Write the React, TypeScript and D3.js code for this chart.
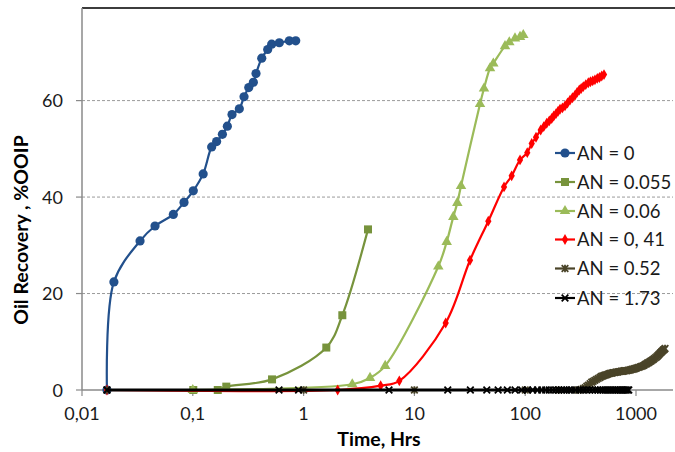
import React from "react";
import * as d3 from "d3";

// Oil recovery (%OOIP) against time (hours) for six acid numbers (AN)

const tickTimes = [0.01, 0.1, 1, 10, 100, 1000];
const tickTimeLabels = ["0,01", "0,1", "1", "10", "100", "1000"];
const recoveryTicks = [0, 20, 40, 60];

const an0Time = [0.0168, 0.0194, 0.0334, 0.0456, 0.0667, 0.0833, 0.101, 0.124, 0.148, 0.164, 0.185, 0.205, 0.226, 0.263, 0.29, 0.32, 0.352, 0.372, 0.419, 0.474, 0.515, 0.604, 0.743, 0.849];
const an0Rec = [0, 22.4, 30.9, 34.0, 36.4, 38.9, 41.3, 44.8, 50.4, 51.5, 53.0, 54.7, 57.1, 58.3, 60.8, 62.7, 63.8, 65.6, 68.8, 70.6, 71.7, 72.0, 72.4, 72.4];

const an055Time = [0.101, 0.168, 0.2006, 0.519, 1.603, 2.236, 3.813];
const an055Rec = [0, 0, 0.7, 2.2, 8.8, 15.5, 33.3];

const an06Time = [0.1, 2.75, 3.975, 5.45, 16.43, 19.56, 22.44, 24.39, 26.34, 39.09, 42.47, 48.12, 51.54, 65.7, 71.86, 80.9, 89.8, 96.1];
const an06Rec = [0, 1.2, 2.5, 5.0, 25.6, 30.7, 35.9, 38.8, 42.3, 59.3, 62.5, 66.7, 67.7, 71.3, 72.1, 72.9, 73.2, 73.6];

const an041Time = [0.0168, 2.03, 4.96, 7.31, 19.16, 31.76, 46.45, 64.4, 75.5, 89.8, 104.4, 114.5, 125.2, 138, 147, 156.4, 165, 173.5, 181, 189.7, 198, 206.2, 217, 228.7, 241, 253.8, 267, 281.5, 294, 307.8, 320, 334.5, 352, 371.1, 388, 406.6, 426, 447.4, 468, 490.3, 514.3];
const an041Rec = [0, 0, 0.9, 1.9, 13.9, 26.9, 35.0, 42.1, 44.4, 47.7, 49.2, 51.1, 52.4, 53.9, 54.6, 55.3, 55.8, 56.3, 56.8, 57.3, 57.8, 58.2, 58.5, 58.9, 59.5, 60.1, 60.6, 61.1, 61.7, 62.2, 62.5, 62.9, 63.3, 63.7, 63.9, 64.1, 64.3, 64.6, 64.8, 65.1, 65.4];

const an052Time = [0.0168, 1, 10, 100, 200, 300, 320, 335, 348, 360, 372, 385, 398, 410, 425, 440, 456, 473, 486, 500, 515, 530, 545, 560, 575, 590, 607, 624, 642, 660, 680, 700, 720, 740, 760, 780, 802, 824, 847, 870, 895, 920, 945, 970, 995, 1020, 1053, 1087, 1118, 1150, 1180, 1210, 1240, 1270, 1303, 1337, 1368, 1400, 1430, 1460, 1500, 1538, 1570, 1600, 1630, 1660, 1685, 1710, 1737, 1763, 1795, 1829];
const an052Rec = [0, 0, 0, 0, 0, 0, 0.1, 0.3, 0.5, 0.8, 1.0, 1.3, 1.6, 1.8, 2.0, 2.2, 2.4, 2.6, 2.8, 2.9, 3.0, 3.1, 3.2, 3.3, 3.4, 3.5, 3.5, 3.6, 3.6, 3.7, 3.7, 3.8, 3.8, 3.9, 3.9, 4.0, 4.0, 4.0, 4.1, 4.1, 4.2, 4.3, 4.3, 4.4, 4.5, 4.6, 4.7, 4.8, 4.9, 5.0, 5.1, 5.3, 5.4, 5.6, 5.7, 5.9, 6.0, 6.2, 6.3, 6.5, 6.7, 6.9, 7.1, 7.3, 7.5, 7.7, 7.8, 8.0, 8.1, 8.3, 8.4, 8.6];

const an173Time = [0.0168, 0.6, 0.9, 5.9, 20, 32, 45, 57, 69, 81, 93, 105, 117, 129, 141, 153, 165, 177, 189, 201, 213, 225, 237, 249, 261, 285, 309, 333, 357, 381, 405, 429, 453, 477, 501, 525, 549, 573, 597, 621, 645, 669, 693, 717, 741, 765, 789, 813, 837, 861];
const an173Rec = [0, 0, 0, 0, 0, 0, 0, 0, 0, 0, 0, 0, 0, 0, 0, 0, 0, 0, 0, 0, 0, 0, 0, 0, 0, 0, 0, 0, 0, 0, 0, 0, 0, 0, 0, 0, 0, 0, 0, 0, 0, 0, 0, 0, 0, 0, 0, 0, 0, 0];

type Marker = "circle" | "square" | "triangle" | "diamond" | "star" | "x";

const seriesNames = ["AN = 0", "AN = 0.055", "AN = 0.06", "AN = 0, 41", "AN = 0.52", "AN = 1.73"];
const seriesColors = ["#22508c", "#77933c", "#9bbb59", "#ff0000", "#4a4429", "#000000"];
const seriesMarkers: Marker[] = ["circle", "square", "triangle", "diamond", "star", "x"];
const seriesWidths = [2.2, 2.2, 2.2, 2.2, 2.2, 3];
const seriesTimes = [an0Time, an055Time, an06Time, an041Time, an052Time, an173Time];
const seriesRecs = [an0Rec, an055Rec, an06Rec, an041Rec, an052Rec, an173Rec];

const W = 675;
const H = 452;
const left = 82;
const right = 673;
const top = 8;
const bottom = 390;

const x = d3.scaleLog().domain([0.01, 1000]).range([left, 636]);
const y = d3.scaleLinear().domain([0, 79.2]).range([bottom, top]);

const font = "Lato, 'Open Sans', sans-serif";

function MarkerShape({ kind, cx, cy, color }: { kind: Marker; cx: number; cy: number; color: string }) {
  if (kind === "circle") return <circle cx={cx} cy={cy} r={4.6} fill={color} />;
  if (kind === "square") return <rect x={cx - 4} y={cy - 4} width={8} height={8} fill={color} />;
  if (kind === "triangle") {
    const p = d3.symbol(d3.symbolTriangle, 48)()!;
    return <path d={p} transform={`translate(${cx},${cy})`} fill={color} />;
  }
  if (kind === "diamond") {
    const p = d3.symbol(d3.symbolDiamond, 34)()!;
    return <path d={p} transform={`translate(${cx},${cy})`} fill={color} />;
  }
  const s = 3.3;
  const d =
    kind === "star"
      ? `M${-s},${-s}L${s},${s}M${-s},${s}L${s},${-s}M0,${-s - 0.5}L0,${s + 0.5}`
      : `M${-s},${-s}L${s},${s}M${-s},${s}L${s},${-s}`;
  return <path d={d} transform={`translate(${cx},${cy})`} stroke={color} strokeWidth={1.8} fill="none" />;
}

export default function App() {
  const line = d3
    .line<[number, number]>()
    .x((d) => x(d[0]))
    .y((d) => y(d[1]))
    .curve(d3.curveCatmullRom.alpha(0.5));

  const legendX = 555;
  const legendY = [153, 182, 211, 239.5, 268.5, 298];

  return (
    <svg width={W} height={H} style={{ position: "absolute", left: 0, top: 0, background: "#fff" }}>
      {/* gridlines */}
      {recoveryTicks
        .filter((v) => v > 0)
        .map((v) => (
          <line key={v} x1={left} x2={right} y1={y(v)} y2={y(v)} stroke="#9a9a9a" strokeWidth={1} strokeDasharray="3,2" />
        ))}
      {/* plot frame top */}
      <line x1={left} x2={W} y1={top} y2={top} stroke="#3c3c3c" strokeWidth={2} />
      {/* axes */}
      <line x1={left} x2={left} y1={top} y2={bottom} stroke="#8a8a8a" strokeWidth={1.5} />
      <line x1={left} x2={right} y1={bottom} y2={bottom} stroke="#8a8a8a" strokeWidth={1.5} />
      {recoveryTicks.map((v) => (
        <g key={v}>
          <line x1={left - 6} x2={left} y1={y(v)} y2={y(v)} stroke="#8a8a8a" strokeWidth={1.2} />
          <text x={63} y={y(v) + 6.5} textAnchor="end" fontFamily={font} fontSize={18} fill="#1a1a1a">
            {v}
          </text>
        </g>
      ))}
      {tickTimes.map((t, i) => (
        <g key={t}>
          <line x1={x(t)} x2={x(t)} y1={bottom} y2={bottom + 6} stroke="#8a8a8a" strokeWidth={1.2} />
          <text x={x(t)} y={420} textAnchor="middle" fontFamily={font} fontSize={18} fill="#1a1a1a">
            {tickTimeLabels[i]}
          </text>
        </g>
      ))}
      <text x={379} y={446} textAnchor="middle" fontFamily={font} fontSize={19.5} fontWeight="bold" fill="#000">
        Time, Hrs
      </text>
      <text
        transform={`translate(28,230) rotate(-90)`}
        textAnchor="middle"
        fontFamily={font}
        fontSize={19.5}
        fontWeight="bold"
        fill="#000"
      >
        Oil Recovery , %OOIP
      </text>

      {/* series */}
      {seriesNames.map((name, i) => {
        const pts: [number, number][] = seriesTimes[i].map((t, j) => [t, seriesRecs[i][j]]);
        return (
          <g key={name}>
            <path d={line(pts) ?? ""} fill="none" stroke={seriesColors[i]} strokeWidth={seriesWidths[i]} />
            {pts.map((p, j) => (
              <MarkerShape key={j} kind={seriesMarkers[i]} cx={x(p[0])} cy={y(p[1])} color={seriesColors[i]} />
            ))}
          </g>
        );
      })}

      {/* legend */}
      {seriesNames.map((name, i) => (
        <g key={name}>
          <line x1={legendX} x2={legendX + 20} y1={legendY[i]} y2={legendY[i]} stroke={seriesColors[i]} strokeWidth={2.2} />
          <MarkerShape kind={seriesMarkers[i]} cx={legendX + 10} cy={legendY[i]} color={seriesColors[i]} />
          <text x={legendX + 22} y={legendY[i] + 6.5} fontFamily={font} fontSize={18.5} fill="#1a1a1a">
            {name}
          </text>
        </g>
      ))}
    </svg>
  );
}
